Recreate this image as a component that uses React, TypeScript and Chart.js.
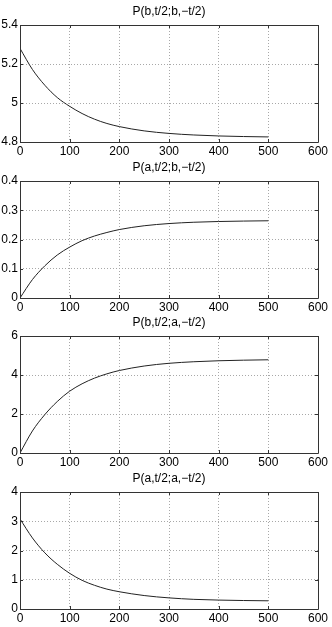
import React, { useEffect, useRef } from "react";
import { Chart, registerables } from "chart.js";

Chart.register(...registerables);

// ---- data ----
const tValues = [0, 25, 50, 75, 100, 125, 150, 175, 200, 250, 300, 350, 400, 450, 500];
const bbValues = [5.28, 5.172, 5.091, 5.028, 4.983, 4.946, 4.917, 4.895, 4.879, 4.857, 4.844, 4.836, 4.831, 4.828, 4.826];
const abValues = [0, 0.063, 0.11, 0.147, 0.174, 0.196, 0.212, 0.224, 0.234, 0.247, 0.2545, 0.259, 0.2615, 0.263, 0.264];
const baValues = [0, 1.13, 1.97, 2.64, 3.17, 3.55, 3.84, 4.06, 4.23, 4.46, 4.6, 4.68, 4.73, 4.76, 4.78];
const aaValues = [3.08, 2.43, 1.92, 1.53, 1.22, 0.98, 0.81, 0.68, 0.59, 0.46, 0.38, 0.33, 0.305, 0.29, 0.28];

const xTicks = [0, 100, 200, 300, 400, 500, 600];
const yTicksBB = [4.8, 5, 5.2, 5.4];
const yTicksAB = [0, 0.1, 0.2, 0.3, 0.4];
const yTicksBA = [0, 2, 4, 6];
const yTicksAA = [0, 1, 2, 3, 4];

const titles = ["P(b,t/2;b,\u2212t/2)", "P(a,t/2;b,\u2212t/2)", "P(b,t/2;a,\u2212t/2)", "P(a,t/2;a,\u2212t/2)"];

const panels = [
  { title: titles[0], values: bbValues, yTicks: yTicksBB },
  { title: titles[1], values: abValues, yTicks: yTicksAB },
  { title: titles[2], values: baValues, yTicks: yTicksBA },
  { title: titles[3], values: aaValues, yTicks: yTicksAA },
];

const PANEL_OFFSETS = [0, 156, 311, 467];
const CANVAS_W = 332;
const CANVAS_H = 156;
const FONT = "'Liberation Sans', Arial, Helvetica, sans-serif";

function fmt(v: number) {
  return String(Number(v.toFixed(3)));
}

function makeBoxPlugin(title: string, yTicks: number[]) {
  return {
    id: "matlabBox",
    afterDraw(chart: any) {
      const { ctx, chartArea } = chart;
      const { left, right, top, bottom } = chartArea;
      const xs = chart.scales.x;
      const ys = chart.scales.y;
      ctx.save();
      ctx.strokeStyle = "#333";
      ctx.lineWidth = 1;
      ctx.setLineDash([]);
      ctx.beginPath();
      ctx.rect(Math.round(left) + 0.5, Math.round(top) + 0.5, Math.round(right - left), Math.round(bottom - top));
      ctx.stroke();
      // inward ticks
      const tl = 3;
      ctx.beginPath();
      for (const v of xTicks) {
        const px = Math.round(xs.getPixelForValue(v)) + 0.5;
        ctx.moveTo(px, bottom);
        ctx.lineTo(px, bottom - tl);
        ctx.moveTo(px, top);
        ctx.lineTo(px, top + tl);
      }
      for (const v of yTicks) {
        const py = Math.round(ys.getPixelForValue(v)) + 0.5;
        ctx.moveTo(left, py);
        ctx.lineTo(left + tl, py);
        ctx.moveTo(right, py);
        ctx.lineTo(right - tl, py);
      }
      ctx.stroke();
      // title
      ctx.fillStyle = "#000";
      ctx.font = `12px ${FONT}`;
      ctx.textAlign = "center";
      ctx.textBaseline = "middle";
      ctx.fillText(title, (left + right) / 2, top - 13);
      ctx.restore();
    },
  };
}

function Panel({ title, values, yTicks, offset }: { title: string; values: number[]; yTicks: number[]; offset: number }) {
  const ref = useRef<HTMLCanvasElement | null>(null);
  useEffect(() => {
    if (!ref.current) return;
    const yMin = yTicks[0];
    const yMax = yTicks[yTicks.length - 1];
    const chart = new Chart(ref.current, {
      type: "line",
      data: {
        datasets: [
          {
            data: tValues.map((t, i) => ({ x: t, y: values[i] })),
            borderColor: "#222",
            borderWidth: 1,
            pointRadius: 0,
            cubicInterpolationMode: "monotone",
            fill: false,
          },
        ],
      },
      options: {
        responsive: false,
        animation: false,
        events: [],
        layout: { padding: { top: 25, right: 14, left: 0, bottom: 0 } },
        plugins: { legend: { display: false }, tooltip: { enabled: false }, title: { display: false } },
        scales: {
          x: {
            type: "linear",
            min: 0,
            max: 600,
            afterBuildTicks: (s: any) => {
              s.ticks = xTicks.map((v) => ({ value: v }));
            },
            afterFit: (s: any) => {
              s.height = 14;
            },
            grid: { color: "#a8a8a8", lineWidth: 1, drawTicks: false },
            border: { display: false, dash: [1, 2] },
            ticks: {
              padding: 2,
              color: "#000",
              autoSkip: false,
              maxRotation: 0,
              font: { family: FONT, size: 12 },
              callback: (v: any) => fmt(Number(v)),
            },
          },
          y: {
            type: "linear",
            min: yMin,
            max: yMax,
            afterBuildTicks: (s: any) => {
              s.ticks = yTicks.map((v) => ({ value: v }));
            },
            afterFit: (s: any) => {
              s.width = 20;
            },
            grid: { color: "#a8a8a8", lineWidth: 1, drawTicks: false },
            border: { display: false, dash: [1, 2] },
            ticks: {
              padding: 2,
              color: "#000",
              autoSkip: false,
              font: { family: FONT, size: 12 },
              callback: (v: any) => fmt(Number(v)),
            },
          },
        },
      } as any,
      plugins: [makeBoxPlugin(title, yTicks)],
    });
    return () => chart.destroy();
  }, [title, values, yTicks]);
  return (
    <canvas
      ref={ref}
      width={CANVAS_W}
      height={CANVAS_H}
      style={{ position: "absolute", left: 0, top: offset, width: CANVAS_W, height: CANVAS_H, display: "block" }}
    />
  );
}

export default function App() {
  return (
    <div style={{ position: "absolute", left: 0, top: 0, width: 332, height: 627, background: "#fff", overflow: "hidden" }}>
      {panels.map((p, i) => (
        <Panel key={i} title={p.title} values={p.values} yTicks={p.yTicks} offset={PANEL_OFFSETS[i]} />
      ))}
    </div>
  );
}
